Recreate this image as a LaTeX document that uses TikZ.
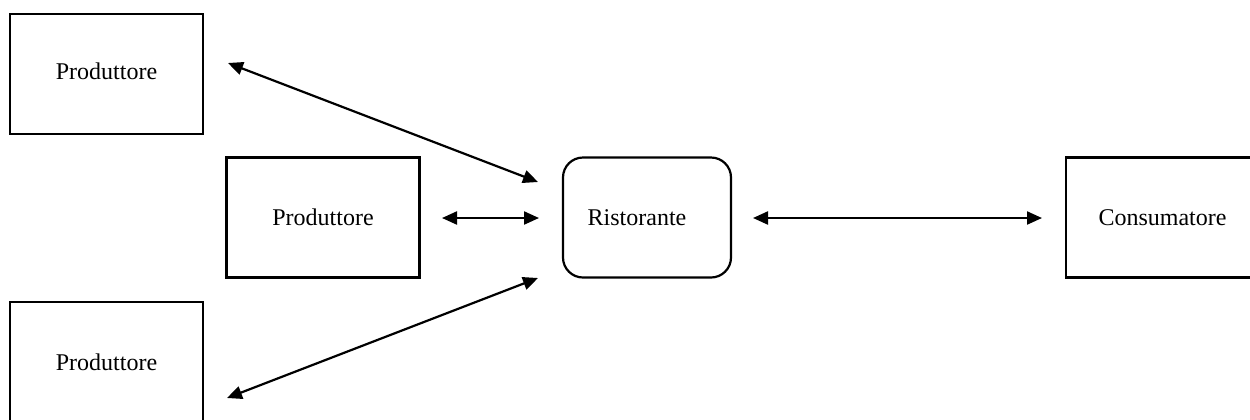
\documentclass[tikz,border=0pt]{standalone}
\usepackage{fontspec}
\setmainfont{Liberation Serif}
\usetikzlibrary{arrows.meta}
\begin{document}
\begin{tikzpicture}[x=0.5pt,y=-0.5pt,
  box/.style={draw,line width=1.1pt,minimum width=96.5pt,minimum height=60pt,inner sep=0pt,font=\fontsize{12}{14}\selectfont},
  rbox/.style={box,rounded corners=10pt,minimum width=84pt},
  link/.style={line width=1.1pt,{Triangle[length=7.5pt,width=6.5pt]}-{Triangle[length=7.5pt,width=6.5pt]}}]
\useasboundingbox (0,0) rectangle (1250,419);
% producers
\node[box] (p1) at (106.5,74) {\raisebox{3pt}{Produttore}};
\node[box] (p2) at (323,217.5) {Produttore};
\node[box] (p3) at (106.5,362) {Produttore};
% restaurant and consumer
\node[rbox] (r) at (647,217.5) {\hspace*{-10pt}Ristorante};
\node[box] (c) at (1162.5,217.5) {Consumatore};
% arrow end points
\coordinate (a1) at (228,63);
\coordinate (b1) at (538,182);
\coordinate (a2) at (442,218);
\coordinate (b2) at (539,218);
\coordinate (a3) at (227,398);
\coordinate (b3) at (538,278);
\coordinate (a4) at (753,218);
\coordinate (b4) at (1042,218);
\draw[link] (a1) -- (b1);
\draw[link] (a2) -- (b2);
\draw[link] (a3) -- (b3);
\draw[link] (a4) -- (b4);
\end{tikzpicture}
\end{document}
